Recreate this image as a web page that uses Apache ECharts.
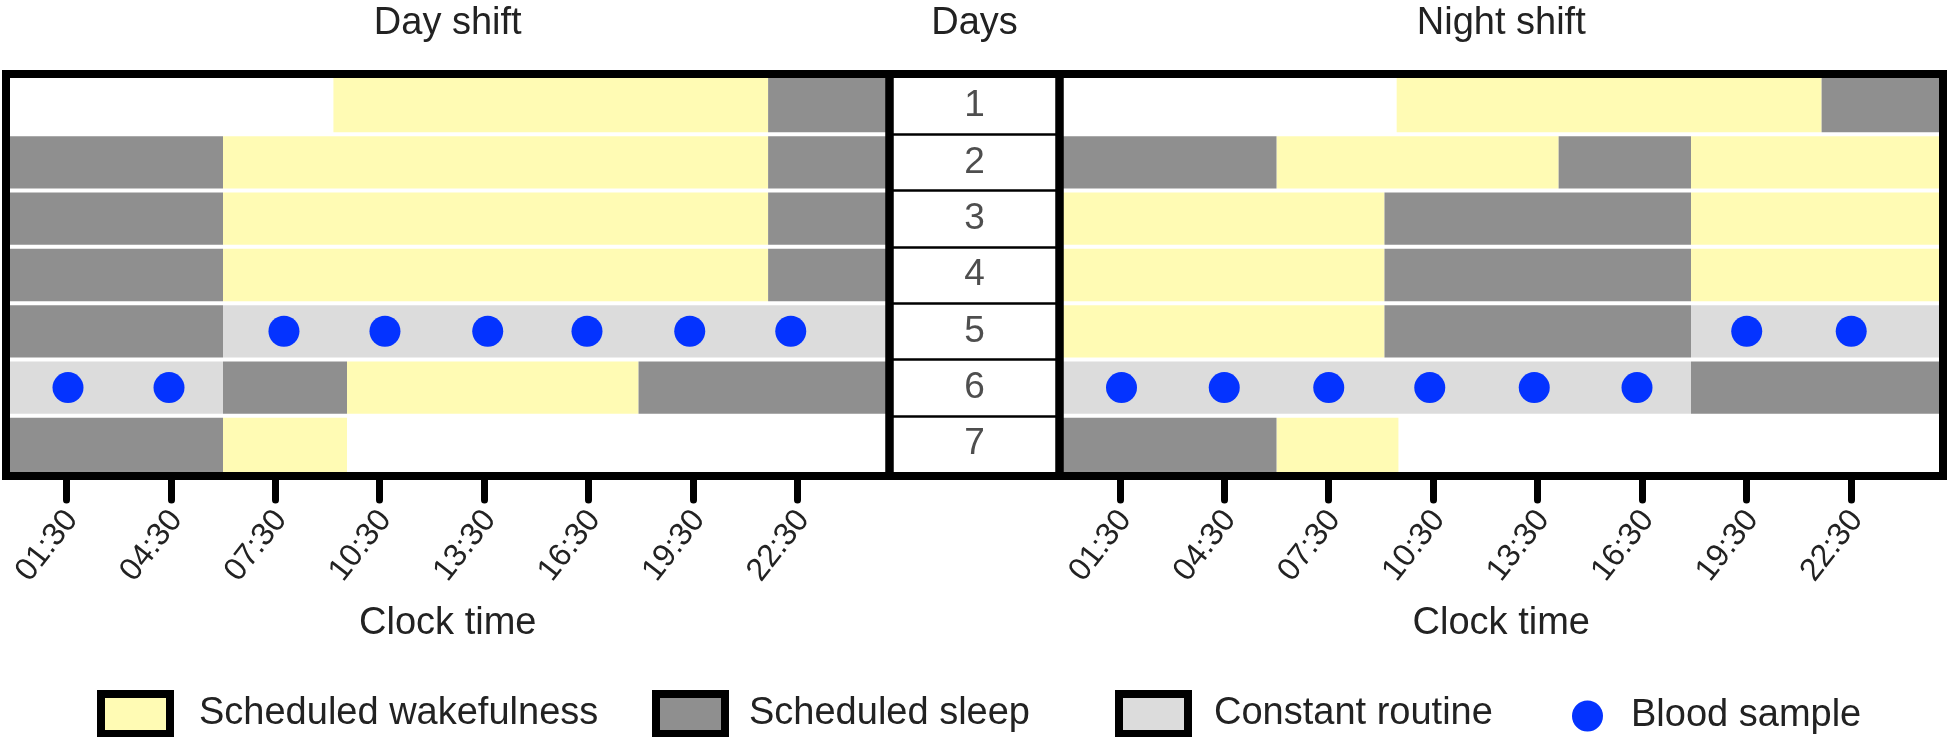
<!DOCTYPE html>
<html><head><meta charset="utf-8">
<script src="https://cdn.jsdelivr.net/npm/echarts@6/dist/echarts.min.js"></script>
<style>html,body{margin:0;padding:0;background:#fff}#c{width:1950px;height:737px}</style>
</head><body><div id="c"></div>
<script>
// ---------- data ----------
const days = [1, 2, 3, 4, 5, 6, 7];
const tickValues = [1.5, 4.5, 7.5, 10.5, 13.5, 16.5, 19.5, 22.5];
const tickLabels = ['01:30', '04:30', '07:30', '10:30', '13:30', '16:30', '19:30', '22:30'];
// segments: [day, start hour, end hour]  (25 = end of panel)
const dayWake = [[1, 9.17, 21.65], [2, 6, 21.65], [3, 6, 21.65], [4, 6, 21.65], [6, 9.56, 17.93], [7, 6, 9.56]];
const daySleep = [[1, 21.65, 25], [2, 0, 6], [2, 21.65, 25], [3, 0, 6], [3, 21.65, 25], [4, 0, 6], [4, 21.65, 25],
                  [5, 0, 6], [6, 6, 9.56], [6, 17.93, 25], [7, 0, 6]];
const dayRoutine = [[5, 6, 25], [6, 0, 6]];
// blood samples: [day, hour]
const dayBlood = [[5, 7.75], [5, 10.65], [5, 13.6], [5, 16.45], [5, 19.4], [5, 22.3], [6, 1.55], [6, 4.45]];
const nightWake = [[1, 9.45, 21.65], [2, 6, 14.1], [2, 17.9, 25], [3, 0, 9.1], [3, 17.9, 25], [4, 0, 9.1],
                   [4, 17.9, 25], [5, 0, 9.1], [7, 6, 9.5]];
const nightSleep = [[1, 21.65, 25], [2, 0, 6], [2, 14.1, 17.9], [3, 9.1, 17.9], [4, 9.1, 17.9], [5, 9.1, 17.9],
                    [6, 17.9, 25], [7, 0, 6]];
const nightRoutine = [[5, 17.9, 25], [6, 0, 17.9]];
const nightBlood = [[5, 19.5], [5, 22.5], [6, 1.55], [6, 4.5], [6, 7.5], [6, 10.4], [6, 13.4], [6, 16.35]];
const legendNames = ['Scheduled wakefulness', 'Scheduled sleep', 'Constant routine', 'Blood sample'];

// ---------- style ----------
const FONT = '"Liberation Sans", Arial, sans-serif';
const TXT = '#222';
const C_WAKE = '#fffbb4', C_SLEEP = '#8f8f8f', C_ROUT = '#dcdcdc', C_BLOOD = '#0433ff';
const GAP = 4;
const X_MIN = -0.23, X_MAX = 25.135, Y_MIN = 0.43, Y_MAX = 7.57;

function renderSeg(params, api) {
  const d = api.value(0), s = api.value(1), e = api.value(2);
  const cs = params.coordSys;
  const a = api.coord([s, d - 0.5]), b = api.coord([e, d + 0.5]);
  const x0 = s <= 0 ? cs.x : a[0];
  const x1 = e >= 25 ? cs.x + cs.width : b[0];
  const y0 = d === 1 ? cs.y : a[1] + GAP / 2;
  const y1 = d === 7 ? cs.y + cs.height : b[1] - GAP / 2;
  return { type: 'rect', shape: { x: x0, y: y0, width: x1 - x0, height: y1 - y0 },
           style: { fill: api.visual('color') } };
}

function segSeries(name, data, color, xi, yi) {
  return { type: 'custom', name, renderItem: renderSeg, xAxisIndex: xi, yAxisIndex: yi,
           itemStyle: { color }, encode: { x: [1, 2], y: 0 }, data, silent: true, z: 2 };
}
function bloodSeries(data, xi, yi) {
  return { type: 'scatter', name: 'Blood sample', xAxisIndex: xi, yAxisIndex: yi, symbol: 'circle',
           symbolSize: 31, itemStyle: { color: C_BLOOD, opacity: 1 }, silent: true, z: 4,
           data: data.map(r => [r[1], r[0]]) };
}

const gridBase = { show: true, borderColor: '#000', borderWidth: 8, backgroundColor: 'transparent', z: 10, top: 69, height: 407 };

function bottomAxis(gi) {
  return {
    type: 'value', gridIndex: gi, position: 'bottom', min: X_MIN, max: X_MAX,
    axisLine: { show: false }, splitLine: { show: false },
    axisTick: { show: true, customValues: tickValues, length: 24, lineStyle: { color: '#000', width: 7, cap: 'round' } },
    axisLabel: { show: true, customValues: tickValues, rotate: 52, margin: 34, verticalAlign: 'top', lineHeight: 14,
                 fontSize: 32, color: TXT, fontFamily: FONT,
                 formatter: v => tickLabels[tickValues.indexOf(v)] },
    name: 'Clock time', nameLocation: 'middle', nameGap: 129,
    nameTextStyle: { fontSize: 38, color: TXT, fontFamily: FONT }
  };
}
function topAxis(gi, name, min, max) {
  return {
    type: 'value', gridIndex: gi, position: 'top', min, max,
    axisLine: { show: false }, axisTick: { show: false }, axisLabel: { show: false }, splitLine: { show: false },
    name, nameLocation: 'middle', nameGap: 31, nameTextStyle: { fontSize: 38, color: TXT, fontFamily: FONT }
  };
}
function yAx(gi) {
  return { type: 'value', gridIndex: gi, min: Y_MIN, max: Y_MAX, inverse: true, show: false };
}

function legendFor(name, left, pad, opts) {
  return Object.assign({
    data: [name], left, top: 690, padding: 0, orient: 'horizontal', selectedMode: false,
    icon: 'rect', itemWidth: 69, itemHeight: 40,
    itemStyle: { borderColor: '#000', borderWidth: 8 },
    textStyle: { fontSize: 38, color: TXT, fontFamily: FONT, padding: [0, 0, 0, pad] }
  }, opts || {});
}

const chart = echarts.init(document.getElementById('c'), null, { renderer: 'canvas' });
chart.setOption({
  animation: false,
  backgroundColor: '#fff',
  textStyle: { fontFamily: FONT },
  grid: [
    Object.assign({ left: 6, width: 883.5 }, gridBase),
    Object.assign({ left: 889.5, width: 170 }, gridBase),
    Object.assign({ left: 1059.5, width: 883.5 }, gridBase)
  ],
  xAxis: [
    bottomAxis(0),
    topAxis(0, 'Day shift', X_MIN, X_MAX),
    topAxis(1, 'Days', 0, 1),
    bottomAxis(2),
    topAxis(2, 'Night shift', X_MIN, X_MAX)
  ],
  yAxis: [yAx(0), yAx(1), yAx(2)],
  legend: [
    legendFor(legendNames[0], 97, 24),
    legendFor(legendNames[1], 652, 19),
    legendFor(legendNames[2], 1115, 21),
    legendFor(legendNames[3], 1572, 23, { icon: 'circle', itemWidth: 31, itemHeight: 31, top: 697,
                                           itemStyle: { borderWidth: 0 } })
  ],
  series: [
    segSeries('Scheduled wakefulness', dayWake, C_WAKE, 0, 0),
    segSeries('Scheduled sleep', daySleep, C_SLEEP, 0, 0),
    segSeries('Constant routine', dayRoutine, C_ROUT, 0, 0),
    bloodSeries(dayBlood, 0, 0),
    segSeries('Scheduled wakefulness', nightWake, C_WAKE, 3, 2),
    segSeries('Scheduled sleep', nightSleep, C_SLEEP, 3, 2),
    segSeries('Constant routine', nightRoutine, C_ROUT, 3, 2),
    bloodSeries(nightBlood, 3, 2),
    {
      type: 'scatter', name: 'days', xAxisIndex: 2, yAxisIndex: 1, symbolSize: 1, silent: true,
      itemStyle: { color: 'rgba(0,0,0,0)' },
      label: { show: true, position: 'inside', formatter: p => String(p.value[1]), fontSize: 37, color: TXT, fontFamily: FONT },
      data: days.map(d => [0.5, d]),
      markLine: { silent: true, symbol: ['none', 'none'], label: { show: false },
                  lineStyle: { color: '#000', width: 2.5, type: 'solid' },
                  data: days.slice(0, 6).map(d => ({ yAxis: d + 0.5 })) }
    }
  ]
});
</script>
</body></html>
